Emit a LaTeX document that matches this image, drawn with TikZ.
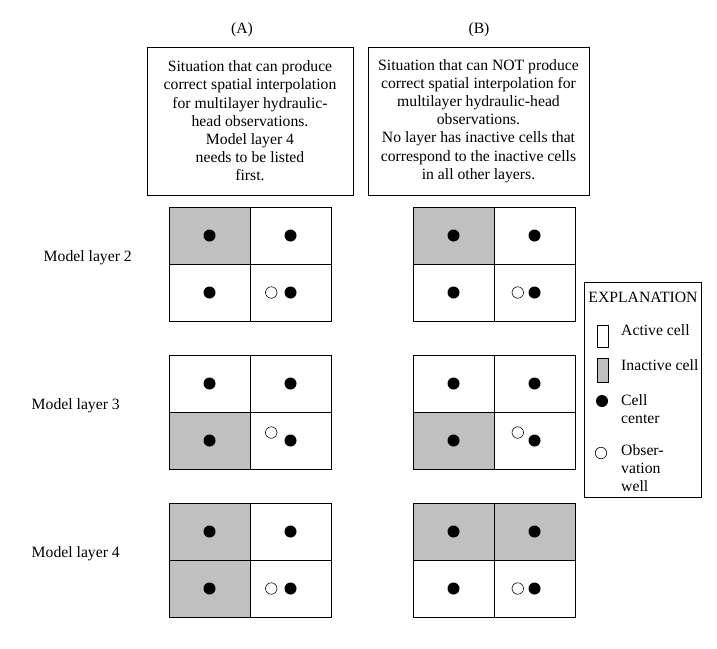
\documentclass[tikz,border=0pt]{standalone}
\usepackage{fontspec}
\setmainfont{Liberation Serif}
\usetikzlibrary{positioning}
\definecolor{cellgray}{RGB}{192,192,192}
\tikzset{
cellbox/.style={draw, line width=1pt, minimum width=81pt, minimum height=57pt, inner sep=0pt, outer sep=0pt},
inactive/.style={cellbox, fill=cellgray},
cellctr/.style={circle, fill=black, minimum size=12pt, inner sep=0pt, outer sep=0pt},
obswell/.style={circle, draw, line width=0.6pt, fill=white, minimum size=11.5pt, inner sep=0pt, outer sep=0pt},
textbox/.style={draw, line width=1pt, minimum height=148pt, align=center, inner sep=0pt},
legtext/.style={anchor=north west, align=left, inner sep=0pt}
}
\begin{document}
\begin{tikzpicture}[x=1pt,y=-1pt,font=\fontsize{15.7}{18.2}\selectfont]
\useasboundingbox (0,0) rectangle (717,648);
\node (heada) at (242,30) {(A)};
\node (headb) at (479,30) {(B)};
\node[textbox, minimum width=206pt] (boxa) at (250,121) {Situation that can produce\\correct spatial interpolation\\for multilayer hydraulic-\\head observations.\\Model layer 4\\needs to be listed\\first.};
\node[textbox, minimum width=221pt] (boxb) at (478.5,121) {Situation that can NOT produce\\correct spatial interpolation for\\multilayer hydraulic-head\\observations.\\No layer has inactive cells that\\correspond to the inactive cells\\in all other layers.};
\node[inactive] (a2tl) at (209.5,235.5) {};
\node[cellbox, right=0pt of a2tl] (a2tr) {};
\node[cellbox, below=0pt of a2tl] (a2bl) {};
\node[cellbox, right=0pt of a2bl] (a2br) {};
\node[cellbox, below=34pt of a2bl] (a3tl) {};
\node[cellbox, right=0pt of a3tl] (a3tr) {};
\node[inactive, below=0pt of a3tl] (a3bl) {};
\node[cellbox, right=0pt of a3bl] (a3br) {};
\node[inactive, below=34pt of a3bl] (a4tl) {};
\node[cellbox, right=0pt of a4tl] (a4tr) {};
\node[inactive, below=0pt of a4tl] (a4bl) {};
\node[cellbox, right=0pt of a4bl] (a4br) {};
\node[inactive, right=82pt of a2tr] (b2tl) {};
\node[cellbox, right=0pt of b2tl] (b2tr) {};
\node[cellbox, below=0pt of b2tl] (b2bl) {};
\node[cellbox, right=0pt of b2bl] (b2br) {};
\node[cellbox, below=34pt of b2bl] (b3tl) {};
\node[cellbox, right=0pt of b3tl] (b3tr) {};
\node[inactive, below=0pt of b3tl] (b3bl) {};
\node[cellbox, right=0pt of b3bl] (b3br) {};
\node[inactive, below=34pt of b3bl] (b4tl) {};
\node[inactive, right=0pt of b4tl] (b4tr) {};
\node[cellbox, below=0pt of b4tl] (b4bl) {};
\node[cellbox, right=0pt of b4bl] (b4br) {};
\foreach \c in {a2tl,a2tr,a2bl,a2br,a3tl,a3tr,a3bl,a3br,a4tl,a4tr,a4bl,a4br,b2tl,b2tr,b2bl,b2br,b3tl,b3tr,b3bl,b3br,b4tl,b4tr,b4bl,b4br}
  \node[cellctr] (\c-ctr) at (\c) {};
\node[obswell, left=7.5pt of a2br-ctr] (a2well) {};
\node[obswell, left=7.5pt of a3br-ctr, yshift=8pt] (a3well) {};
\node[obswell, left=7.5pt of a4br-ctr] (a4well) {};
\node[obswell, left=5pt of b2br-ctr] (b2well) {};
\node[obswell, left=5pt of b3br-ctr, yshift=8pt] (b3well) {};
\node[obswell, left=5pt of b4br-ctr] (b4well) {};
\node[left=37pt of a2tl.south west, yshift=6pt, inner sep=0pt] (lay2) {Model layer 2};
\node[left=49pt of a3tl.south west, yshift=6pt, inner sep=0pt] (lay3) {Model layer 3};
\node[left=49pt of a4tl.south west, yshift=6pt, inner sep=0pt] (lay4) {Model layer 4};
\node[draw, line width=1pt, minimum width=117pt, minimum height=215pt, inner sep=0pt] (legend) at (642.5,389.5) {};
\node (legtitle) at (643,297) {EXPLANATION};
\node[draw, line width=0.8pt, minimum width=11pt, minimum height=22pt, inner sep=0pt] (legact) at (602.5,336) {};
\node[draw, line width=0.8pt, fill=cellgray, minimum width=11pt, minimum height=24pt, inner sep=0pt] (leginact) at (602.5,370) {};
\node[cellctr] (legctr) at (602,401) {};
\node[obswell] (legwell) at (601,453) {};
\node[anchor=base west, inner sep=0pt] (legacttxt) at (621,335) {Active cell};
\node[anchor=base west, inner sep=0pt] (leginacttxt) at (621,370) {Inactive cell};
\node[legtext] (legctrtxt) at (621,394.3) {Cell\\center};
\node[legtext] (legwelltxt) at (621,444.3) {Obser-\\vation\\well};
\end{tikzpicture}
\end{document}
